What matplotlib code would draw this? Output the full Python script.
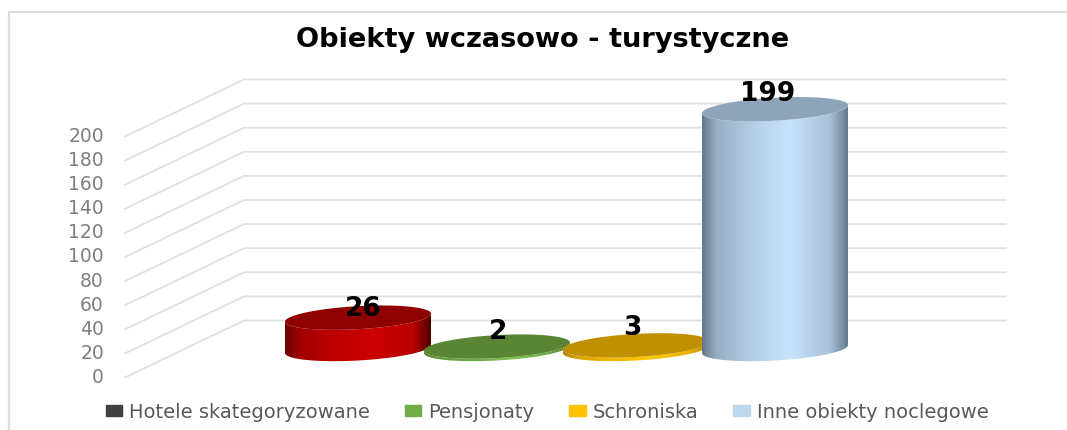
import numpy as np
import matplotlib.pyplot as plt
from matplotlib.colors import LinearSegmentedColormap
from matplotlib.patches import Patch, Polygon

title = 'Obiekty wczasowo - turystyczne'
categories = ['Hotele skategoryzowane', 'Pensjonaty', 'Schroniska', 'Inne obiekty noclegowe']
values = [26, 2, 3, 199]
yticks = [0, 20, 40, 60, 80, 100, 120, 140, 160, 180, 200]
legend_colors = ['#404040', '#70ad47', '#ffc000', '#bdd7ee']
top_colors = ['#8f0000', '#5a8535', '#c09000', '#8ea4b8']
grad_stops = [0, 0.1, 0.35, 0.6, 0.88, 1]
side_colors = [['#6e0000', '#a00000', '#c00000', '#cc0000', '#b80000', '#500000'],
               ['#4f7a2c', '#5f9a38', '#70ad47', '#7fc050', '#6aa540', '#4f7a2c'],
               ['#b08400', '#d8a400', '#f0b800', '#ffc800', '#e8ae00', '#b08400'],
               ['#64798b', '#97afc4', '#b5cfe6', '#c8e3fc', '#a8c1d8', '#64798b']]

# pixel scales of the original picture
W, H = 1067, 430
x0_px, step_px = 358, 139
y0_px, unit_px = 349, 1.205

fig = plt.figure(figsize=(W / 100, H / 100), dpi=100)
ax = fig.add_axes([0, 0, 1, 1])
ax.set_xlim(-x0_px / step_px, (W - x0_px) / step_px)
ax.set_ylim((y0_px - H) / unit_px, y0_px / unit_px)
ax.axis('off')

# floor depth: front line is half a depth below the bars, back wall half above
depth_x = 119 / step_px
depth_y = 57 / unit_px
front_x = (125 - x0_px) / step_px
right_x = (1006 - x0_px) / step_px

px_x = lambda p: (p - x0_px) / step_px
px_y = lambda p: (y0_px - p) / unit_px

# frame
ax.plot([px_x(9), px_x(9), px_x(W)], [px_y(H), px_y(12), px_y(12)], color='#dcdcdc', lw=1.6)

# grid
for v in yticks:
    yf = v - depth_y / 2
    yb = v + depth_y / 2
    ax.plot([front_x, front_x + depth_x, right_x], [yf, yb, yb], color='#e0e0e0', lw=1.3, zorder=1)
    ax.text(front_x - 21 / step_px, yf, str(v), ha='right', va='center', color='#7f7f7f', fontsize=13.5)

# cylinders
a = 73 / step_px
b = 11.5 / unit_px
skew = 4 / unit_px
t = np.linspace(0, 2 * np.pi, 200)
for i, v in enumerate(values):
    ex = i + a * np.cos(t)
    ey = b * np.sin(t) + skew * np.cos(t)
    arc = np.sin(t) <= 0
    order = np.argsort(ex[arc])
    low_x, low_y = ex[arc][order], ey[arc][order]
    outline = np.column_stack([np.r_[low_x, low_x[::-1]], np.r_[low_y, low_y[::-1] + v]])
    cmap = LinearSegmentedColormap.from_list('side', list(zip(grad_stops, side_colors[i])))
    grad = np.linspace(0, 1, 256).reshape(1, -1)
    im = ax.imshow(grad, cmap=cmap, extent=[i - a, i + a, -b - skew, v + b + skew], aspect='auto', zorder=2 + i)
    clip = Polygon(outline, transform=ax.transData, fc='none', ec='none')
    ax.add_patch(clip)
    im.set_clip_path(clip)
    ax.fill(ex, ey + v, color=top_colors[i], lw=0, zorder=2 + i + 0.5)

ax.set_xlim(-x0_px / step_px, (W - x0_px) / step_px)
ax.set_ylim((y0_px - H) / unit_px, y0_px / unit_px)

# value labels
label_dx = [5, 1, -4, -7]
label_dy = [9, 15, 17, 15]
for i, v in enumerate(values):
    ax.text(i + label_dx[i] / step_px, v + label_dy[i] / unit_px, str(v), ha='center', va='center',
            fontsize=19, fontweight='bold', color='black', zorder=10)

ax.text(px_x(543), px_y(40), title, ha='center', va='center', fontsize=19.6, fontweight='bold', color='black')

handles = [Patch(color=c, label=n) for c, n in zip(legend_colors, categories)]
ax.legend(handles=handles, ncol=4, frameon=False, loc='center', bbox_to_anchor=(547 / W, 1 - 412 / H),
          fontsize=14, labelcolor='#595959', handlelength=0.85, handleheight=0.5, handletextpad=0.35,
          columnspacing=1.8, borderpad=0)

fig.savefig('out.png', dpi=100)
